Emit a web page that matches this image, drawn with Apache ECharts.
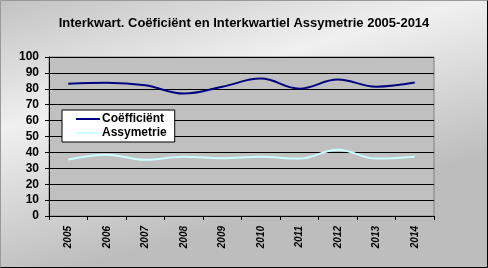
<!DOCTYPE html>
<html><head><meta charset="utf-8">
<script src="https://cdn.jsdelivr.net/npm/echarts@6/dist/echarts.min.js"></script>
<style>html,body{margin:0;padding:0;}#c{width:488px;height:268px;}</style>
</head><body><div id="c"></div>
<script>
var years = ['2005','2006','2007','2008','2009','2010','2011','2012','2013','2014'];
var coefficient = [83.2, 83.8, 82.2, 77.0, 81.3, 86.4, 80.1, 85.8, 81.3, 83.9];
var assymetrie = [35.6, 38.6, 35.4, 37.3, 36.3, 37.3, 36.1, 41.7, 36.1, 37.3];
var titleText = 'Interkwart. Coëficiënt en Interkwartiel Assymetrie 2005-2014';

var chart = echarts.init(document.getElementById('c'), null, {renderer: 'canvas'});
var font = 'Arial, "Liberation Sans", sans-serif';
chart.setOption({
  animation: false,
  backgroundColor: new echarts.graphic.LinearGradient(0, 0, 0.15, 1, [
    {offset: 0, color: '#c2c2c2'},
    {offset: 0.45, color: '#f0f0f0'},
    {offset: 1, color: '#bdbdbd'}
  ]),
  graphic: [
    {type: 'polyline', shape: {points: [[0.5, 267.5], [0.5, 0.5], [487.5, 0.5]]}, style: {stroke: '#9a9a9a', lineWidth: 1, fill: null}, silent: true},
    {type: 'polyline', shape: {points: [[487.5, 0.5], [487.5, 267.5], [0.5, 267.5]]}, style: {stroke: '#000', lineWidth: 1, fill: null}, silent: true}
  ],
  title: {
    text: titleText, left: 'center', top: 12,
    textStyle: {fontFamily: font, fontWeight: 'bold', fontSize: 13, color: '#000'}
  },
  legend: {
    left: 62, top: 110, orient: 'vertical',
    width: 116, height: 33,
    backgroundColor: '#fff', borderColor: '#000', borderWidth: 1,
    padding: [3, 8, 3, 14], itemGap: 2,
    itemWidth: 24, itemHeight: 2,
    icon: 'rect',
    textStyle: {fontFamily: font, fontWeight: 'bold', fontSize: 12, color: '#000', padding: [0, 0, 0, -3]},
    data: ['Coëfficiënt', 'Assymetrie']
  },
  grid: {left: 49, right: 54, top: 57, bottom: 52, show: true, borderColor: '#808080', borderWidth: 1, backgroundColor: '#c0c0c0'},
  xAxis: {
    type: 'category', data: years, boundaryGap: true,
    axisLine: {lineStyle: {color: '#000', width: 1}},
    axisTick: {show: true, length: 4, lineStyle: {color: '#000'}},
    axisLabel: {rotate: 90, margin: 10, fontFamily: font, fontWeight: 'bold', fontStyle: 'italic', fontSize: 10, color: '#000'}
  },
  yAxis: {
    type: 'value', min: 0, max: 100, interval: 10,
    axisLine: {show: true, lineStyle: {color: '#000', width: 1}},
    axisTick: {show: true, length: 4, lineStyle: {color: '#000'}},
    splitLine: {lineStyle: {color: '#000', width: 1}},
    axisLabel: {margin: 10, fontFamily: font, fontWeight: 'bold', fontSize: 12, color: '#000'}
  },
  series: [
    {name: 'Coëfficiënt', type: 'line', data: coefficient, smooth: 0.4, symbol: 'none', color: '#000080', lineStyle: {width: 2, color: '#000080'}},
    {name: 'Assymetrie', type: 'line', data: assymetrie, smooth: 0.4, symbol: 'none', color: '#ccffff', lineStyle: {width: 2, color: '#ccffff'}}
  ]
});
</script></body></html>
